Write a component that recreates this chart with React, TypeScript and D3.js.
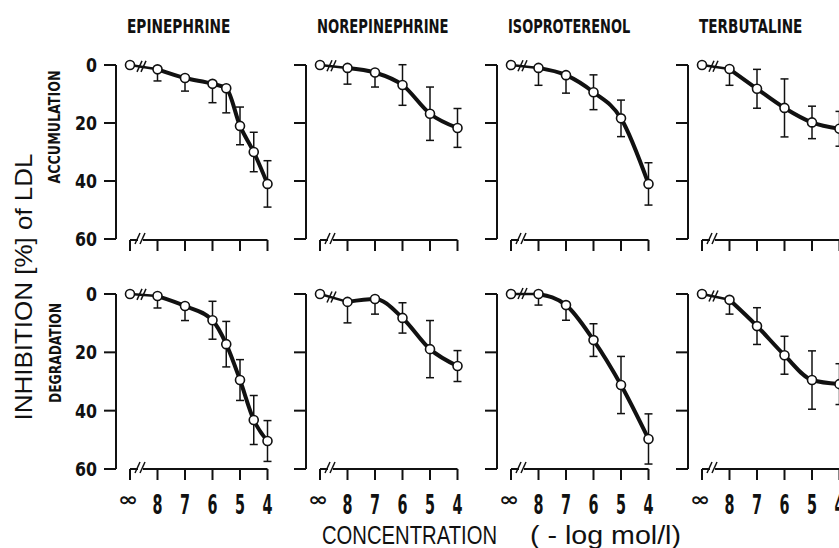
import React from 'react';
import * as d3 from 'd3';

// panel titles / row labels
const drugs = ['EPINEPHRINE', 'NOREPINEPHRINE', 'ISOPROTERENOL', 'TERBUTALINE'];
const measures = ['ACCUMULATION', 'DEGRADATION'];
const yTicks = [0, 20, 40, 60];
const xTicks = [Infinity, 8, 7, 6, 5, 4];
const xTickLabels = ['∞', '8', '7', '6', '5', '4'];

// concentrations (-log mol/l), Infinity = control
const epiConc = [Infinity, 8, 7, 6, 5.5, 5, 4.5, 4];
const stdConc = [Infinity, 8, 7, 6, 5, 4];

// accumulation: mean inhibition (%) and SD
const epiAcc = [0, 1.5, 4.5, 6.5, 8, 21, 30, 41];
const epiAccSd = [0, 4, 4.5, 6.5, 8.5, 6.5, 6.8, 8];
const norAcc = [0, 1, 2.6, 6.9, 16.8, 21.7];
const norAccSd = [0, 5.6, 5, 7, 9.2, 6.7];
const isoAcc = [0, 1, 3.5, 9.4, 18.4, 41];
const isoAccSd = [0, 6, 6.2, 6, 6.3, 7.3];
const terAcc = [0, 1.4, 8.2, 14.8, 19.8, 22];
const terAccSd = [0, 5.6, 6.7, 10, 5.6, 6];

// degradation
const epiDeg = [0, 0.7, 4.1, 9, 17.2, 29.5, 43.2, 50.4];
const epiDegSd = [0, 4.1, 5, 6.5, 7.8, 7, 8.4, 7];
const norDeg = [0, 2.7, 1.7, 8.2, 18.9, 24.7];
const norDegSd = [0, 7.2, 5.2, 5.2, 9.8, 5.3];
const isoDeg = [0, 0, 3.8, 15.8, 31.2, 49.7];
const isoDegSd = [0, 3.8, 5.2, 5.6, 9.8, 8.6];
const terDeg = [0, 2, 11, 21, 29.5, 30.9];
const terDegSd = [0, 4.9, 6.3, 6.5, 10, 7];

// 1 = bar drawn both ways, 0 = only downwards
const epiAccBoth = [0, 0, 0, 0, 0, 1, 1, 1];
const norAccBoth = [0, 0, 0, 1, 1, 1];
const isoAccBoth = [0, 0, 0, 1, 1, 1];
const terAccBoth = [0, 0, 1, 1, 1, 1];
const epiDegBoth = [0, 0, 0, 1, 1, 1, 1, 1];
const norDegBoth = [0, 0, 0, 1, 1, 1];
const isoDegBoth = [0, 0, 0, 1, 1, 1];
const terDegBoth = [0, 0, 1, 1, 1, 1];

interface Series {
  conc: number[];
  mean: number[];
  sd: number[];
  both: number[];
}

const panels: Series[][] = [
  [
    { conc: epiConc, mean: epiAcc, sd: epiAccSd, both: epiAccBoth },
    { conc: stdConc, mean: norAcc, sd: norAccSd, both: norAccBoth },
    { conc: stdConc, mean: isoAcc, sd: isoAccSd, both: isoAccBoth },
    { conc: stdConc, mean: terAcc, sd: terAccSd, both: terAccBoth },
  ],
  [
    { conc: epiConc, mean: epiDeg, sd: epiDegSd, both: epiDegBoth },
    { conc: stdConc, mean: norDeg, sd: norDegSd, both: norDegBoth },
    { conc: stdConc, mean: isoDeg, sd: isoDegSd, both: isoDegBoth },
    { conc: stdConc, mean: terDeg, sd: terDegSd, both: terDegBoth },
  ],
];

const W = 839;
const H = 548;
const INK = '#111';
const COND = "'DejaVu Sans Condensed', 'Liberation Sans Narrow', 'DejaVu Sans', sans-serif";
const SANS = "'Liberation Sans', Arial, sans-serif";

const axisXs = [116, 306, 497, 688];
const rowGeom = [
  { y0: 65, y60: 239, axisY: 240 },
  { y0: 294, y60: 469, axisY: 469 },
];

const Panel: React.FC<{ axisX: number; row: number; col: number; s: Series }> = ({ axisX, row, col, s }) => {
  const g = rowGeom[row];
  const x = d3.scaleLinear().domain([9, 4]).range([axisX + 14, axisX + 151.5]);
  const y = d3.scaleLinear().domain([0, 60]).range([g.y0, g.y60]);
  const px = (c: number) => x(isFinite(c) ? c : 9);

  const pts: [number, number][] = s.conc.map((c, i) => [px(c), y(s.mean[i])]);
  const curve = d3.line().curve(d3.curveMonotoneX)(pts.slice(1)) || '';

  const xi = px(Infinity);
  const x4 = px(4);
  const ay = g.axisY;

  // break mark on the data line
  const xb = xi + 12;
  const t = (xb - pts[0][0]) / (pts[1][0] - pts[0][0]);
  const yb = pts[0][1] + t * (pts[1][1] - pts[0][1]);

  return (
    <g>
      {/* y axis */}
      <line x1={axisX} x2={axisX} y1={y(0)} y2={y(60)} stroke={INK} strokeWidth={2} />
      {yTicks.map((v) => (
        <line key={v} x1={axisX - 12} x2={axisX} y1={y(v)} y2={y(v)} stroke={INK} strokeWidth={2} />
      ))}
      {col === 0 &&
        yTicks.map((v) => (
          <text
            key={'l' + v}
            x={axisX - 19}
            y={y(v) + 7}
            textAnchor="end"
            fontFamily={COND}
            fontWeight="bold"
            fontSize={20}
            textLength={String(v).length * 11}
            lengthAdjust="spacingAndGlyphs"
            fill={INK}
          >
            {v}
          </text>
        ))}

      {/* x axis with break */}
      <line x1={xi} x2={xi + 8} y1={ay} y2={ay} stroke={INK} strokeWidth={2} />
      <line x1={xi + 13} x2={x4} y1={ay} y2={ay} stroke={INK} strokeWidth={2} />
      <line x1={xi + 5} y1={ay + 4} x2={xi + 10} y2={ay - 7} stroke={INK} strokeWidth={1.5} />
      <line x1={xi + 10} y1={ay + 4} x2={xi + 15} y2={ay - 7} stroke={INK} strokeWidth={1.5} />
      {xTicks.map((c) => (
        <line key={c} x1={px(c)} x2={px(c)} y1={ay} y2={ay + 11} stroke={INK} strokeWidth={2} />
      ))}
      {row === 1 &&
        xTicks.map((c, i) =>
          isFinite(c) ? (
            <text
              key={'t' + c}
              x={px(c)}
              y={514}
              textAnchor="middle"
              fontFamily={COND}
              fontWeight="bold"
              fontSize={26}
              textLength={10}
              lengthAdjust="spacingAndGlyphs"
              fill={INK}
            >
              {xTickLabels[i]}
            </text>
          ) : (
            <text
              key="inf"
              transform={`translate(${px(c) - 2},${506}) scale(1.1,0.85)`}
              textAnchor="middle"
              fontFamily="'DejaVu Sans', sans-serif"
              fontWeight="bold"
              fontSize={22}
              fill={INK}
            >
              {xTickLabels[i]}
            </text>
          )
        )}

      {/* data line */}
      <line x1={pts[0][0]} y1={pts[0][1]} x2={pts[1][0]} y2={pts[1][1]} stroke={INK} strokeWidth={2.5} />
      <line x1={xb - 5} y1={yb + 5} x2={xb} y2={yb - 6} stroke={INK} strokeWidth={1.5} />
      <line x1={xb - 1} y1={yb + 5} x2={xb + 4} y2={yb - 6} stroke={INK} strokeWidth={1.5} />
      <path d={curve} fill="none" stroke={INK} strokeWidth={4} strokeLinecap="round" />

      {/* error bars */}
      {s.conc.map((c, i) => {
        if (!s.sd[i]) return null;
        const cx = px(c);
        const lo = y(s.mean[i] + s.sd[i]);
        const hi = s.both[i] ? y(s.mean[i] - s.sd[i]) : y(s.mean[i]);
        return (
          <g key={'e' + i} stroke={INK} strokeWidth={1.5}>
            <line x1={cx} x2={cx} y1={hi} y2={lo} />
            <line x1={cx - 4} x2={cx + 4} y1={lo} y2={lo} />
            {s.both[i] ? <line x1={cx - 4} x2={cx + 4} y1={hi} y2={hi} /> : null}
          </g>
        );
      })}

      {/* points */}
      {pts.map((p, i) => (
        <circle key={'c' + i} cx={p[0]} cy={p[1]} r={4.5} fill="#fff" stroke={INK} strokeWidth={1.6} />
      ))}
    </g>
  );
};

const App: React.FC = () => {
  return (
    <svg
      width={W}
      height={H}
      viewBox={`0 0 ${W} ${H}`}
      style={{ position: 'absolute', left: 0, top: 0, background: '#fff' }}
    >
      <rect width={W} height={H} fill="#fff" />

      {drugs.map((d, i) => (
        <text
          key={d}
          x={axisXs[i] + 11}
          y={33}
          fontFamily={COND}
          fontWeight="bold"
          fontSize={19}
          textLength={d.length * 9.4}
          lengthAdjust="spacingAndGlyphs"
          fill={INK}
        >
          {d}
        </text>
      ))}

      {panels.map((row, r) =>
        row.map((s, c) => <Panel key={r + '-' + c} axisX={axisXs[c]} row={r} col={c} s={s} />)
      )}

      {/* row labels */}
      <text
        transform="translate(60,127) rotate(-90)"
        textAnchor="middle"
        fontFamily={COND}
        fontWeight="bold"
        fontSize={16}
        textLength={113}
        lengthAdjust="spacingAndGlyphs"
        fill={INK}
      >
        {measures[0]}
      </text>
      <text
        transform="translate(61,353) rotate(-90)"
        textAnchor="middle"
        fontFamily={COND}
        fontWeight="bold"
        fontSize={16}
        textLength={100}
        lengthAdjust="spacingAndGlyphs"
        fill={INK}
      >
        {measures[1]}
      </text>

      {/* axis titles */}
      <text
        transform="translate(32,287) rotate(-90)"
        textAnchor="middle"
        fontFamily={SANS}
        fontSize={24}
        textLength={267}
        lengthAdjust="spacingAndGlyphs"
        fill={INK}
      >
        INHIBITION [%] of LDL
      </text>
      <text
        x={322}
        y={544}
        fontFamily={SANS}
        fontSize={25}
        textLength={175}
        lengthAdjust="spacingAndGlyphs"
        fill={INK}
      >
        CONCENTRATION
      </text>
      <text
        x={530}
        y={544}
        fontFamily={SANS}
        fontSize={25}
        textLength={151}
        lengthAdjust="spacingAndGlyphs"
        fill={INK}
      >
        ( - log mol/l)
      </text>
    </svg>
  );
};

export default App;
